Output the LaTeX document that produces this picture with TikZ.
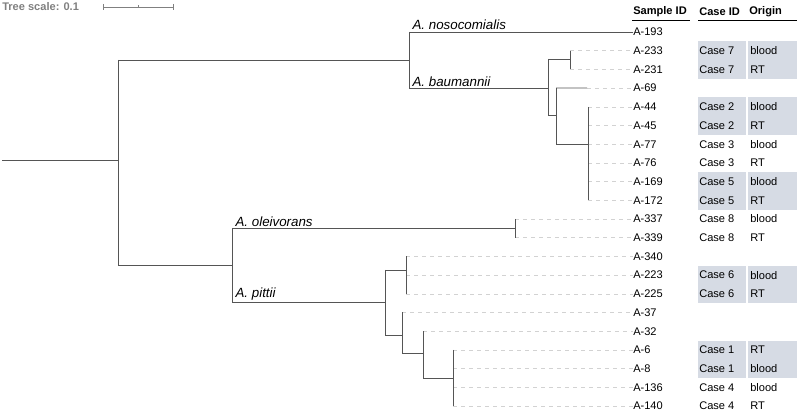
\documentclass[tikz,border=0pt]{standalone}
\usepackage{fontspec}
\setmainfont{Liberation Sans}
\definecolor{cellgray}{HTML}{D6DBE4}
\definecolor{branchgray}{HTML}{555555}
\tikzset{
  branch/.style={branchgray, line width=0.6pt},
  guide/.style={gray!35, dashed, line width=0.4pt},
  leaf/.style={anchor=west, inner sep=0pt, font=\fontsize{8.3}{10}\selectfont},
  cell/.style={anchor=west, inner sep=0pt, font=\fontsize{8.3}{10}\selectfont},
  clade/.style={anchor=south west, inner sep=1pt, font=\fontsize{10}{12}\selectfont\itshape},
  head/.style={anchor=west, inner sep=0pt, font=\fontsize{8.3}{10}\selectfont\bfseries}
}
\begin{document}
\begin{tikzpicture}[x=0.75pt, y=-0.75pt]
  \useasboundingbox (0,0) rectangle (800,413);

  % scale bar
  \node[anchor=west, inner sep=0pt, text=gray, font=\fontsize{8.3}{10}\selectfont\bfseries] (scale) at (2,7) {Tree scale: 0.1};
  \coordinate (sa) at (103,7);
  \coordinate (sb) at (173,7);
  \draw[branch, gray] (sa) -- (sb);
  \draw[branch, gray] (103,4) -- (103,10) (138,5.5) -- (138,8.5) (173,4) -- (173,10);

  % table header
  \node[head] (hsample) at (633,12) {Sample ID};
  \node[head] (hcase) at (699,12) {Case ID};
  \node[head] (horigin) at (749,12) {Origin};
  \draw[black, line width=0.6pt] (632,20) -- (690,20) (698,20) -- (797,20);

  % leaves, branch tips and table cells
  \foreach \i/\name/\tip in {0/A-193/409, 1/A-233/570, 2/A-231/570, 3/A-69/587,
      4/A-44/588, 5/A-45/588, 6/A-77/588, 7/A-76/588, 8/A-169/588, 9/A-172/588,
      10/A-337/515, 11/A-339/515, 12/A-340/406, 13/A-223/406, 14/A-225/406,
      15/A-37/402, 16/A-32/423, 17/A-6/453, 18/A-8/453, 19/A-136/453, 20/A-140/453} {
    \pgfmathsetmacro{\yy}{32+18.7*\i}
    \node[leaf] (s\i) at (633,\yy) {\name};
    \coordinate (t\i) at (\tip,\yy);
    \draw[guide] (t\i) -- (s\i.west);
  }
  \draw[branch] (t0) -- (s0.west);

  \foreach \i/\case/\origin/\shade in {1/7/blood/1, 2/7/RT/1, 4/2/blood/1, 5/2/RT/1,
      6/3/blood/0, 7/3/RT/0, 8/5/blood/1, 9/5/RT/1, 10/8/blood/0, 11/8/RT/0,
      13/6/blood/1, 14/6/RT/1, 17/1/RT/1, 18/1/blood/1, 19/4/blood/0, 20/4/RT/0} {
    \pgfmathsetmacro{\yy}{32+18.7*\i}
    \ifnum\shade=1
      \fill[cellgray] (698,\yy-9.35) rectangle (746,\yy+9.35);
      \fill[cellgray] (748,\yy-9.35) rectangle (797,\yy+9.35);
    \fi
    \node[cell] (c\i) at (699,\yy) {Case \case};
    \node[cell] (o\i) at (750,\yy) {\origin};
  }

  % internal nodes
  \coordinate (root) at (2,160);
  \coordinate (n1) at (118,160);
  \coordinate (nnos) at (409,60);
  \coordinate (nbau) at (548,88);
  \coordinate (nlow) at (232,265);

  \draw[branch] (root) -- (n1);
  \draw[branch] (n1 |- nnos) -- (n1 |- nlow);
  \draw[branch] (n1 |- nnos) -- (nnos);
  \draw[branch] (nnos |- t0) -- (nnos |- nbau) -- (nbau);
  \node[clade] (lnos) at (411,31) {A. nosocomialis};
  \node[clade] (lbau) at (411,88) {A. baumannii};

  % baumannii
  \draw[branch] (548,59) -- (548,115);
  \draw[branch] (548,59) -- (570,59);
  \draw[branch] (t1) -- (t2);
  \draw[branch] (548,115) -- (556,115);
  \draw[branch] (556,88.1) -- (556,144);
  \draw[branch] (556,88.1) -- (t3);
  \draw[branch] (556,144) -- (588,144);
  \draw[branch] (t4) -- (t9);

  % lower clades
  \draw[branch] (n1 |- nlow) -- (nlow);
  \draw[branch] (232,228) -- (232,302);
  \draw[branch] (232,228) -- (515,228);
  \draw[branch] (t10) -- (t11);
  \node[clade] (lole) at (234,228) {A. oleivorans};

  \draw[branch] (232,302) -- (385,302);
  \node[clade] (lpit) at (234,302) {A. pittii};
  \draw[branch] (385,270) -- (385,335);
  \draw[branch] (385,270) -- (406,270);
  \draw[branch] (t12) -- (t14);
  \draw[branch] (385,335) -- (402,335);
  \draw[branch] (t15) -- (402,353);
  \draw[branch] (402,353) -- (423,353);
  \draw[branch] (t16) -- (423,378);
  \draw[branch] (423,378) -- (453,378);
  \draw[branch] (t17) -- (t20);
\end{tikzpicture}
\end{document}
